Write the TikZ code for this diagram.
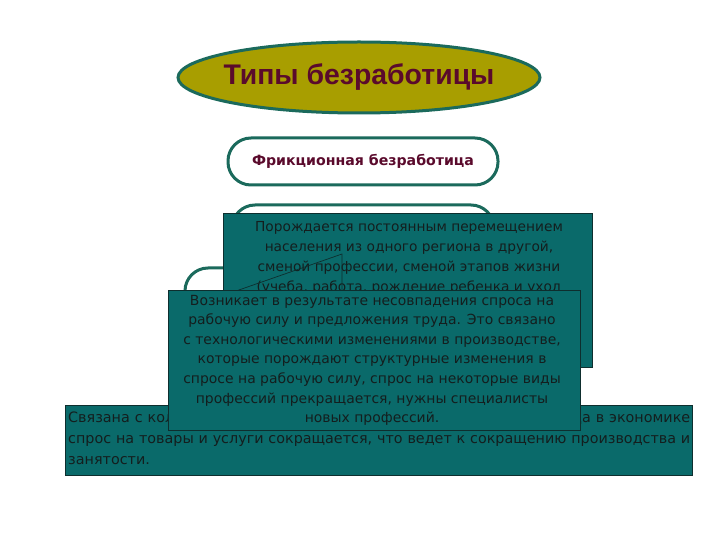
\documentclass[tikz,border=0pt]{standalone}
\usepackage{fontspec}
\setmainfont{DejaVu Sans}
\newfontfamily\titlefont{Liberation Sans}
\usetikzlibrary{shapes.geometric}
\definecolor{olivefill}{HTML}{A89E00}
\definecolor{tealline}{HTML}{1B6A5C}
\definecolor{maroon}{HTML}{5A0A2C}
\definecolor{boxfill}{HTML}{0A6A6A}
\definecolor{boxline}{HTML}{0E2E2E}
\definecolor{boxtext}{HTML}{141E1E}
\tikzset{
  titleshape/.style={ellipse, draw=tealline, line width=3bp, fill=olivefill, minimum width=362bp, minimum height=71bp, inner sep=0pt},
  stadium/.style={rectangle, rounded corners=23bp, draw=tealline, line width=3bp, fill=white, inner sep=0pt},
  textbox/.style={rectangle, draw=boxline, line width=0.8bp, fill=boxfill, inner sep=0pt},
  boxtxt/.style={text=boxtext, align=center, inner sep=0pt},
  thinline/.style={draw=boxline, line width=0.7bp}
}
\begin{document}
\begin{tikzpicture}[x=1bp,y=-1bp]
\useasboundingbox (0,0) rectangle (720,540);
% title
\node[titleshape] (title) at (359,77.5) {};
\node[text=maroon, font=\titlefont\bfseries\fontsize{28.5}{32}\selectfont] (titletext) at (title.center) {Типы безработицы};
% frictional
\node[stadium, minimum width=270bp, minimum height=47bp] (fric) at (363,161.5) {};
\node[text=maroon, font=\bfseries\fontsize{14.2}{17}\selectfont] (frictext) at (fric.center) {Фрикционная безработица};
% background stadiums
\node[stadium, minimum width=262bp, minimum height=47bp] (stA) at (363,228.5) {};
\node[stadium, minimum width=370bp, minimum height=50bp] (stB) at (370,293) {};
% box 1
\node[textbox, minimum width=369bp, minimum height=154bp] (box1) at (407.5,290) {};
\node[boxtxt, anchor=north, font=\fontsize{13.8}{20.3}\selectfont] (box1text) at (409,221) {Порождается постоянным перемещением\\населения из одного региона в другой,\\сменой профессии, сменой этапов жизни\\(учеба, работа, рождение ребенка и уход};
% callout lines
\coordinate (c1) at (236,291);
\coordinate (c2) at (342,254);
\coordinate (c3) at (342,290);
\draw[thinline] (c1) -- (c2) -- (c3);
% box 3
\node[textbox, minimum width=627bp, minimum height=70bp] (box3) at (378.5,440) {};
\node[text=boxtext, align=justify, text width=622bp, anchor=north west, inner sep=0pt, font=\fontsize{14.4}{21}\selectfont] (box3text) at (68,411) {Связана с колебаниями экономической активности: в период спада в экономике\linebreak спрос на товары и услуги сокращается, что ведет к сокращению производства и\linebreak занятости.};
% box 2
\node[textbox, minimum width=412bp, minimum height=140bp] (box2) at (374,360) {};
\node[boxtxt, anchor=north, font=\fontsize{14}{19.6}\selectfont] (box2text) at (372,295) {Возникает в результате несовпадения спроса на\\рабочую силу и предложения труда. Это связано\\с технологическими изменениями в производстве,\\которые порождают структурные изменения в\\спросе на рабочую силу, спрос на некоторые виды\\профессий прекращается, нужны специалисты\\новых профессий.};
\end{tikzpicture}
\end{document}
